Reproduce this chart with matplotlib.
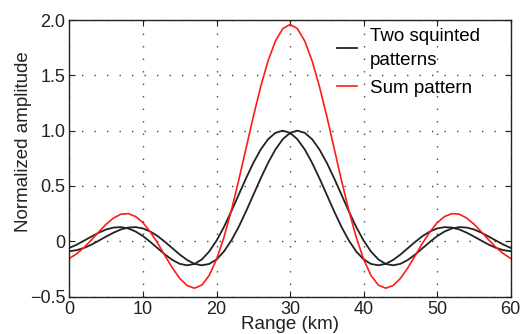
import matplotlib
matplotlib.use("Agg")
import matplotlib.pyplot as plt

# range axis (km), 1 km steps
range_km = list(range(0, 61))

# squinted pattern centred near 29 km
pattern_a = [-0.060, -0.030, 0.006, 0.043, 0.078, 0.107, 0.124, 0.128, 0.116, 0.088,
             0.047, -0.006, -0.063, -0.120, -0.169, -0.204, -0.217, -0.205, -0.164, -0.093,
             0.006, 0.128, 0.269, 0.419, 0.568, 0.708, 0.829, 0.922, 0.980, 1.000,
             0.980, 0.922, 0.829, 0.708, 0.568, 0.419, 0.269, 0.128, 0.006, -0.093,
             -0.164, -0.205, -0.217, -0.204, -0.169, -0.120, -0.063, -0.006, 0.047, 0.088,
             0.116, 0.128, 0.124, 0.107, 0.078, 0.043, 0.006, -0.030, -0.060, -0.080,
             -0.090]

# squinted pattern centred near 31 km
pattern_b = [-0.090, -0.080, -0.060, -0.030, 0.006, 0.043, 0.078, 0.107, 0.124, 0.128,
             0.116, 0.088, 0.047, -0.006, -0.063, -0.120, -0.169, -0.204, -0.217, -0.205,
             -0.164, -0.093, 0.006, 0.128, 0.269, 0.419, 0.568, 0.708, 0.829, 0.922,
             0.980, 1.000, 0.980, 0.922, 0.829, 0.708, 0.568, 0.419, 0.269, 0.128,
             0.006, -0.093, -0.164, -0.205, -0.217, -0.204, -0.169, -0.120, -0.063, -0.006,
             0.047, 0.088, 0.116, 0.128, 0.124, 0.107, 0.078, 0.043, 0.006, -0.030,
             -0.060]

# sum pattern
sum_pattern = [-0.155, -0.112, -0.055, 0.013, 0.086, 0.155, 0.210, 0.245, 0.250, 0.224,
               0.168, 0.084, -0.017, -0.131, -0.241, -0.336, -0.400, -0.424, -0.396, -0.309,
               -0.163, 0.035, 0.275, 0.547, 0.837, 1.127, 1.397, 1.630, 1.809, 1.922,
               1.960, 1.922, 1.809, 1.630, 1.397, 1.127, 0.837, 0.547, 0.275, 0.035,
               -0.163, -0.309, -0.396, -0.424, -0.400, -0.336, -0.241, -0.131, -0.017, 0.084,
               0.168, 0.224, 0.250, 0.245, 0.210, 0.155, 0.086, 0.013, -0.055, -0.112,
               -0.155]

x_ticks = [0, 10, 20, 30, 40, 50, 60]
y_ticks = [-0.5, 0, 0.5, 1.0, 1.5, 2.0]
y_tick_labels = ['\u22120.5', '0', '0.5', '1.0', '1.5', '2.0']

plt.rcParams['font.family'] = ['Liberation Sans', 'DejaVu Sans']

fig = plt.figure(figsize=(5.26, 3.34), dpi=100)
ax = fig.add_axes([0.132, 0.112, 0.839, 0.828])

ax.plot(range_km, pattern_a, color='#222222', lw=1.3, label='Two squinted\npatterns')
ax.plot(range_km, pattern_b, color='#222222', lw=1.3)
ax.plot(range_km, sum_pattern, color='#ff1a1a', lw=1.2, label='Sum pattern')

ax.set_xlim(0, 60)
ax.set_ylim(-0.5, 2.0)
ax.set_xticks(x_ticks)
ax.set_yticks(y_ticks)
ax.set_yticklabels(y_tick_labels)
ax.tick_params(direction='in', top=True, right=True, length=4, labelsize=13, colors='#222222', pad=3)
ax.grid(True, linestyle=(0, (1, 8)), color='#444444', linewidth=1.0)
for s in ax.spines.values():
    s.set_color('#222222')
    s.set_linewidth(1.0)

ax.set_xlabel('Range (km)', fontsize=13.5, labelpad=-1, color='#222222')
ax.set_ylabel('Normalized amplitude', fontsize=13.5, color='#222222')
ax.yaxis.set_label_coords(-0.085, 0.56)

leg = ax.legend(loc='upper left', bbox_to_anchor=(0.567, 1.034), frameon=False, fontsize=13.5,
                handlelength=1.1, handletextpad=0.7, labelspacing=0.55)
for t in leg.get_texts():
    t.set_linespacing(1.6)

fig.savefig('out.png', dpi=100)
